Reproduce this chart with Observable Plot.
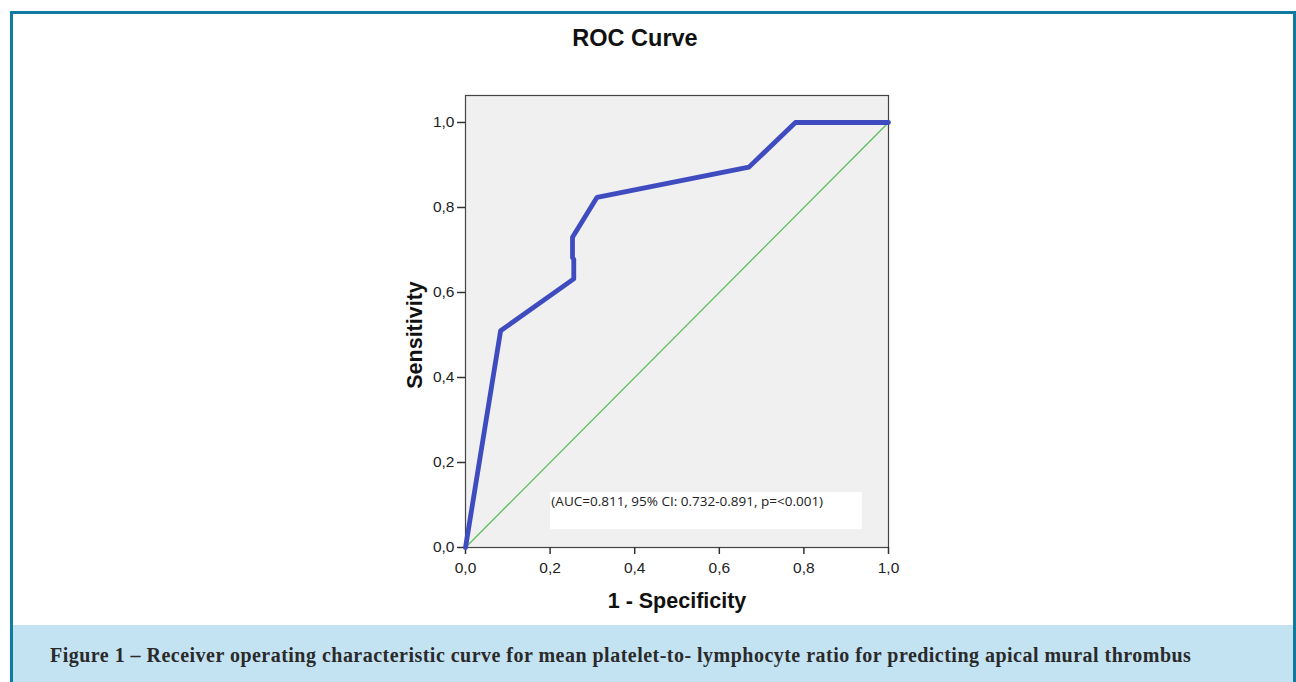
<!DOCTYPE html>
<html>
<head>
<meta charset="utf-8">
<script src="https://cdn.jsdelivr.net/npm/d3@7"></script>
<script src="https://cdn.jsdelivr.net/npm/@observablehq/plot@0.6"></script>
<style>
  html, body { margin: 0; padding: 0; background: #ffffff; }
  #page { position: relative; width: 1296px; height: 682px; overflow: hidden; background: #ffffff; }
  #border { position: absolute; left: 10px; top: 11px; width: 1280px; height: 700px;
            border: 3px solid #117aa0; border-bottom: none; }
  #title { position: absolute; left: -13px; top: 0; width: 1296px; height: 70px; text-align: center;
           font-family: "Liberation Sans", Arial, sans-serif; font-weight: bold; font-size: 23.5px;
           line-height: 77px; color: #111; }
  #chart { position: absolute; left: 0; top: 70px; }
  #caption { position: absolute; left: 13px; top: 625px; width: 1280px; height: 57px; background: #c3e3f3;
             font-family: "Liberation Serif", "Times New Roman", serif; font-weight: bold; font-size: 20px;
             letter-spacing: 0.48px; color: #2a2a2a; line-height: 60px; padding-left: 37px;
             box-sizing: border-box; white-space: nowrap; }
</style>
</head>
<body>
<div id="page">
  <div id="border"></div>
  <div id="title">ROC Curve</div>
  <div id="chart"></div>
  <div id="caption">Figure 1 – Receiver operating characteristic curve for mean platelet-to- lymphocyte ratio for predicting apical mural thrombus</div>
</div>
<script>
// ROC curve points
const fpr = [0, 0.083, 0.256, 0.256, 0.253, 0.253, 0.311, 0.670, 0.780, 1.0];
const tpr = [0, 0.510, 0.632, 0.678, 0.682, 0.730, 0.824, 0.895, 1.0, 1.0];
// reference diagonal
const diagX = [0, 1];
const diagY = [0, 1];
// tick values
const xTicks = [0, 0.2, 0.4, 0.6, 0.8, 1.0];
const yTicks = [0, 0.2, 0.4, 0.6, 0.8, 1.0];
// annotation
const annotationText = ["(AUC=0.811, 95% CI: 0.732-0.891, p=<0.001)"];

const roc = fpr.map((x, i) => ({x, y: tpr[i]}));
const diag = diagX.map((x, i) => ({x, y: diagY[i]}));
const note = [{x1: 0.201, x2: 0.938, y1: 0.042, y2: 0.129, xt: 0.203, yt: 0.108, text: annotationText[0]}];
const fmt = d => d.toFixed(1).replace(".", ",");

const chart = Plot.plot({
  width: 1296,
  height: 555,
  marginLeft: 465,
  marginRight: 408,
  marginTop: 25,
  marginBottom: 78,
  x: {domain: [0, 1]},
  y: {domain: [0, 1.0635]},
  style: {fontFamily: "'Liberation Sans', Arial, sans-serif", fontSize: "15px", color: "#222", background: "transparent"},
  marks: [
    Plot.frame({fill: "#f0f0f0", stroke: null}),
    Plot.line(diag, {x: "x", y: "y", stroke: "#5cbf5c", strokeWidth: 1.3}),
    Plot.rect(note, {x1: "x1", x2: "x2", y1: "y1", y2: "y2", fill: "#ffffff"}),
    Plot.text(note, {x: "xt", y: "yt", text: "text", textAnchor: "start", fontSize: 13.5,
                     fontFamily: "'Open Sans', sans-serif", fill: "#222"}),
    Plot.frame({stroke: "#444", strokeWidth: 1.2}),
    Plot.axisX({ticks: xTicks, tickFormat: fmt, tickSize: 7, tickPadding: 7, label: null, fontSize: 15.5,
                stroke: "#333", strokeWidth: 1.5, fill: "#222"}),
    Plot.axisY({ticks: yTicks, tickFormat: fmt, tickSize: 8, tickPadding: 3, label: null, fontSize: 15.5,
                stroke: "#333", strokeWidth: 1.5, fill: "#222"}),
    Plot.line(roc, {x: "x", y: "y", stroke: "#3f4cc0", strokeWidth: 4.8, strokeLinejoin: "round"}),
    Plot.text(["Sensitivity"], {y: [0.5], frameAnchor: "left", dx: -50, rotate: -90, text: d => d,
                               textAnchor: "middle", lineAnchor: "middle",
                               fontSize: 21.5, fontWeight: "bold", fill: "#111"}),
    Plot.text(["1 - Specificity"], {frameAnchor: "bottom", dy: 54, text: d => d,
                                   textAnchor: "middle", lineAnchor: "middle",
                                   fontSize: 21.5, fontWeight: "bold", fill: "#111"})
  ]
});
document.getElementById("chart").appendChild(chart);
</script>
</body>
</html>
